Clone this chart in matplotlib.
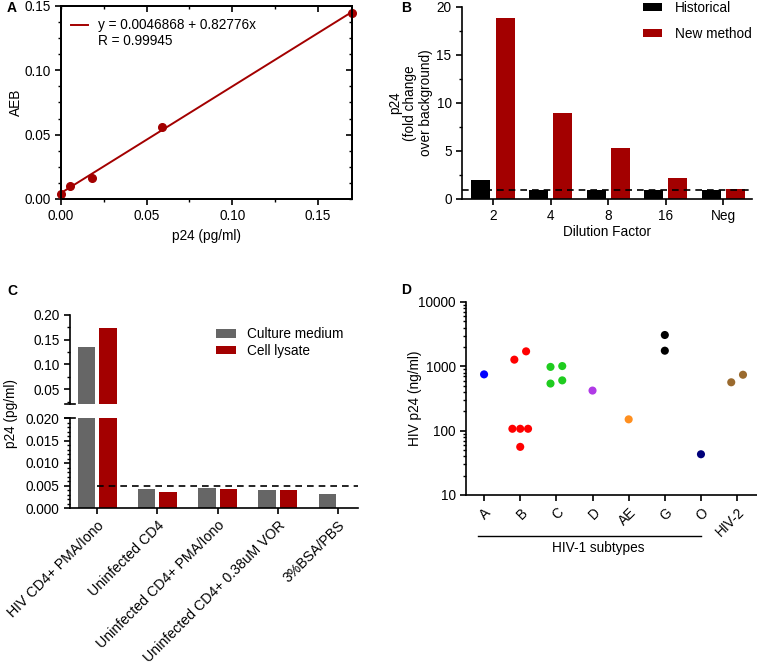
import numpy as np
import matplotlib
matplotlib.use("Agg")
import matplotlib.pyplot as plt
from matplotlib.ticker import AutoMinorLocator, FormatStrFormatter, LogLocator, NullFormatter, FixedLocator
from matplotlib.lines import Line2D

plt.rcParams['font.family'] = ['Liberation Sans', 'DejaVu Sans']
plt.rcParams['font.size'] = 9.8
plt.rcParams['axes.linewidth'] = 1.2

# ---- data ----
# A: standard curve
std_p24 = [0.0, 0.005, 0.018, 0.059, 0.17]
std_aeb = [0.004, 0.010, 0.0165, 0.056, 0.1445]
fit_intercept = 0.0046868
fit_slope = 0.82776
fit_r = 0.99945

# B: dilution series
dilutions = ['2', '4', '8', '16', 'Neg']
historical = [2.0, 0.95, 0.95, 0.9, 0.95]
new_method = [18.9, 8.95, 5.3, 2.2, 1.0]
cutoff_b = 0.9

# C: sample types
conditions = ['HIV CD4+ PMA/Iono', 'Uninfected CD4', 'Uninfected CD4+ PMA/Iono',
              'Uninfected CD4+ 0.38uM VOR', '3%BSA/PBS']
culture_medium = [0.135, 0.0042, 0.0045, 0.0041, 0.0031]
cell_lysate = [0.173, 0.0036, 0.0043, 0.0040, np.nan]
cutoff_c = 0.005

# D: subtypes
subtypes = ['A', 'B', 'C', 'D', 'AE', 'G', 'O', 'HIV-2']
p24_A = [750]
p24_B = [1270, 1710, 107, 107, 107, 56]
p24_C = [1010, 980, 540, 605]
p24_D = [420]
p24_AE = [150]
p24_G = [3070, 1750]
p24_O = [43]
p24_HIV2 = [565, 740]
subtype_colors = ['#0000ff', '#ff0000', '#1fcc1f', '#b03ae6', '#ff8f1f', '#000000', '#00007a', '#9a6a2e']

dark_red = '#a30000'
gray = '#666666'

W, H = 757, 666
fig = plt.figure(figsize=(W / 100, H / 100), dpi=100)


def px_axes(left, top, right, bottom):
    return fig.add_axes([left / W, 1 - bottom / H, (right - left) / W, (bottom - top) / H])


def style(ax):
    ax.tick_params(which='major', direction='out', length=4, width=1.2, labelsize=9.8)
    ax.tick_params(which='minor', direction='out', length=2.5, width=1.0)


# ---------- A ----------
axA = px_axes(61, 6, 352, 199)
axA.plot(std_p24, std_aeb, 'o', color=dark_red, ms=5.5, clip_on=False, zorder=3)
xfit = np.array([0, max(std_p24)])
fit_line, = axA.plot(xfit, fit_intercept + fit_slope * xfit, '-', color=dark_red, lw=1.4)
axA.set_xlim(0, 0.17)
axA.set_ylim(0, 0.15)
axA.set_xticks([0, 0.05, 0.10, 0.15])
axA.set_yticks([0, 0.05, 0.10, 0.15])
axA.xaxis.set_major_formatter(FormatStrFormatter('%.2f'))
axA.yaxis.set_major_formatter(FormatStrFormatter('%.2f'))
axA.xaxis.set_minor_locator(AutoMinorLocator(2))
axA.yaxis.set_minor_locator(AutoMinorLocator(4))
style(axA)
# inward ticks on the top and right frame
topA = axA.twiny()
topA.set_xlim(axA.get_xlim())
topA.set_xticks([0.05, 0.10, 0.15])
topA.xaxis.set_minor_locator(AutoMinorLocator(2))
topA.tick_params(which='major', direction='in', length=4, width=1.2, labeltop=False)
topA.tick_params(which='minor', direction='in', length=2.5, width=1.0)
rightA = axA.twinx()
rightA.set_ylim(axA.get_ylim())
rightA.set_yticks([0.05, 0.10, 0.15])
rightA.yaxis.set_minor_locator(AutoMinorLocator(4))
rightA.tick_params(which='major', direction='in', length=4, width=1.2, labelright=False)
rightA.tick_params(which='minor', direction='in', length=2.5, width=1.0)
axA.set_xlabel('p24 (pg/ml)', labelpad=4)
axA.set_ylabel('AEB')
axA.yaxis.set_label_coords(-0.13, 0.5)
axA.legend([fit_line, Line2D([], [], color='none')],
           ['y = %.7f + %.5fx' % (fit_intercept, fit_slope), 'R = %.5f' % fit_r],
           loc='upper left', bbox_to_anchor=(0.0, 0.985), frameon=False, handlelength=1.3,
           handletextpad=0.7, borderaxespad=0.3, labelspacing=0.12)

# ---------- B ----------
axB = px_axes(462, 7, 752, 199)
xb = np.arange(len(dilutions))
bw = 0.33
axB.bar(xb - 0.21, historical, bw, color='black', label='Historical')
axB.bar(xb + 0.21, new_method, bw, color=dark_red, label='New method')
axB.axhline(cutoff_b, color='black', lw=1.2, ls=(0, (4, 3)))
axB.set_xlim(-0.54, 4.5)
axB.set_ylim(0, 20)
axB.set_xticks(xb)
axB.set_xticklabels(dilutions)
axB.set_yticks([0, 5, 10, 15, 20])
axB.yaxis.set_minor_locator(AutoMinorLocator(2))
for s in ['top', 'right']:
    axB.spines[s].set_visible(False)
style(axB)
axB.set_xlabel('Dilution Factor', labelpad=1)
axB.set_ylabel('p24\n(fold change\nover background)', linespacing=1.15)
axB.yaxis.set_label_coords(-0.10, 0.5)
axB.legend(loc='upper right', bbox_to_anchor=(1.04, 1.095), frameon=False, handlelength=1.45,
           handleheight=0.55, handletextpad=0.9, labelspacing=0.85)

# ---------- C ----------
xc = np.arange(len(conditions))
cw = 0.29
axCt = px_axes(70, 315, 358, 404)
axCb = px_axes(70, 418, 358, 508)
for ax in (axCt, axCb):
    ax.bar(xc - 0.18, culture_medium, cw, color=gray, label='Culture medium')
    ax.bar(xc + 0.18, cell_lysate, cw, color=dark_red, label='Cell lysate')
    ax.set_xlim(-0.45, 4.33)
    for s in ['top', 'right']:
        ax.spines[s].set_visible(False)
    style(ax)
axCt.set_ylim(0.02, 0.20)
axCt.set_yticks([0.05, 0.10, 0.15, 0.20])
axCt.yaxis.set_major_formatter(FormatStrFormatter('%.2f'))
axCt.yaxis.set_minor_locator(FixedLocator([0.025, 0.075, 0.125, 0.175]))
axCt.spines['bottom'].set_visible(False)
axCt.tick_params(axis='x', bottom=False, labelbottom=False)
axCt.plot([-0.018, 0.018], [0, 0], color='black', lw=1.2, transform=axCt.transAxes, clip_on=False)

axCb.set_ylim(0, 0.02)
axCb.set_yticks([0, 0.005, 0.010, 0.015, 0.020])
axCb.yaxis.set_major_formatter(FormatStrFormatter('%.3f'))
axCb.yaxis.set_minor_locator(AutoMinorLocator(5))
axCb.plot([-0.018, 0.018], [1, 1], color='black', lw=1.2, transform=axCb.transAxes, clip_on=False)
axCb.plot([0, 4.33], [cutoff_c, cutoff_c], color='black', lw=1.2, ls=(0, (4, 3)), zorder=4)
axCb.set_xticks(xc)
axCb.set_xticklabels(conditions, rotation=45, ha='right', rotation_mode='anchor', fontsize=10.2)
axCt.legend(loc='upper left', bbox_to_anchor=(0.465, 1.0), frameon=False, handlelength=1.45,
            handleheight=0.6, handletextpad=0.8, labelspacing=0.2)
fig.text(11 / W, 1 - 413 / H, 'p24 (pg/ml)', rotation=90, ha='center', va='center')

# ---------- D ----------
axD = px_axes(466, 302, 757, 495)
groups = [p24_A, p24_B, p24_C, p24_D, p24_AE, p24_G, p24_O, p24_HIV2]
for i, vals in enumerate(groups):
    v = np.sort(np.array(vals, dtype=float))
    lv = np.log10(v)
    clusters, cur = [], [0]
    for k in range(1, len(v)):
        if lv[k] - lv[k - 1] < 0.15:
            cur.append(k)
        else:
            clusters.append(cur)
            cur = [k]
    clusters.append(cur)
    xs = np.zeros(len(v))
    for c in clusters:
        n = len(c)
        xs[c] = i + (np.arange(n) - (n - 1) / 2) * (0.65 / n if n > 1 else 0)
    axD.scatter(xs, v, s=34, color=subtype_colors[i], edgecolors='none', zorder=3)
axD.set_yscale('log')
axD.set_ylim(10, 10000)
axD.set_xlim(-0.5, 7.55)
axD.set_yticks([10, 100, 1000, 10000])
axD.set_yticklabels(['10', '100', '1000', '10000'])
axD.yaxis.set_minor_locator(LogLocator(base=10, subs=np.arange(2, 10)))
axD.yaxis.set_minor_formatter(NullFormatter())
axD.set_xticks(np.arange(len(subtypes)))
axD.set_xticklabels(subtypes, rotation=45, ha='right', rotation_mode='anchor', fontsize=10.2)
for s in ['top', 'right']:
    axD.spines[s].set_visible(False)
style(axD)
axD.set_ylabel('HIV p24 (ng/ml)')
axD.yaxis.set_label_coords(-0.15, 0.5)
axD.plot([-0.17, 6.0], [-41 / 193, -41 / 193], color='black', lw=1.0,
         transform=axD.get_xaxis_transform(), clip_on=False)
fig.text(598 / W, 1 - 548 / H, 'HIV-1 subtypes', ha='center', va='center')

# panel letters
for letter, x, y in [('A', 7, 12), ('B', 401, 12), ('C', 7, 295), ('D', 401, 294)]:
    fig.text(x / W, 1 - y / H, letter, fontsize=10, fontweight='bold', ha='left', va='baseline')

fig.savefig('out.png', dpi=100)
